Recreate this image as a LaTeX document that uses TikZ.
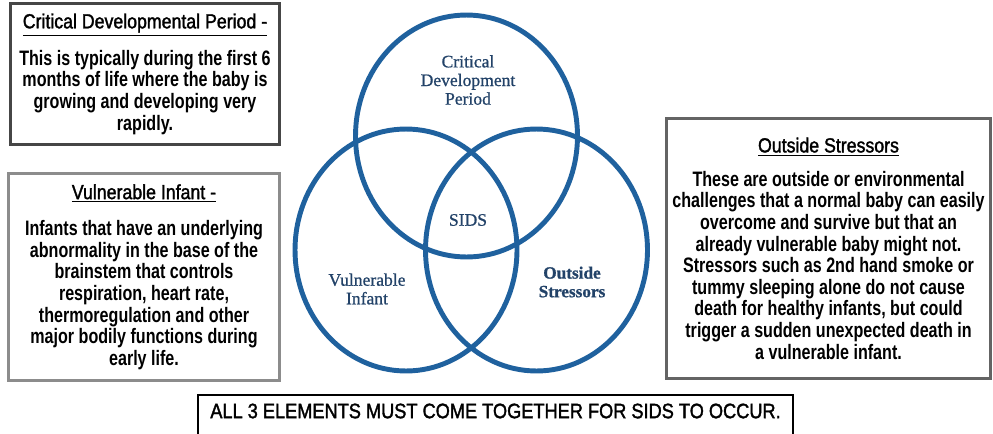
\documentclass[tikz,border=0pt]{standalone}
\usepackage{fontspec}
\usepackage{tikz}
\usetikzlibrary{shapes.geometric}
\setmainfont{Liberation Sans}
\newfontfamily\headfont[FakeStretch=0.87, FakeBold=1.6]{Liberation Sans}
\newfontfamily\bodyfont[FakeStretch=0.77]{Liberation Sans}
\newfontfamily\vennfont[FakeBold=0.9]{Liberation Serif}
\definecolor{vennblue}{RGB}{31,97,158}
\definecolor{venntext}{RGB}{34,66,104}
\definecolor{boxdark}{RGB}{70,70,70}
\definecolor{boxmid}{RGB}{100,100,100}
\definecolor{boxlight}{RGB}{140,140,140}

\tikzset{
	infobox/.style={draw, line width=1.7pt, inner sep=0pt, align=center,
		font=\bodyfont\bfseries\fontsize{11.9}{12.3}\selectfont},
	notebox/.style={draw=black, line width=1.1pt, minimum width=11.9cm, minimum height=1cm},
	venn/.style={ellipse, draw=vennblue, line width=2.8pt, minimum width=4.44cm,
		minimum height=4.84cm, inner sep=0pt},
	vennlabel/.style={text=venntext, align=center, font=\vennfont\fontsize{10}{10.6}\selectfont},
}
\newcommand{\boxhead}[1]{{\headfont\mdseries\fontsize{11.6}{12.3}\selectfont\underline{#1}}}

\begin{document}
\begin{tikzpicture}
	[x=0.02cm, y=-0.02cm]
	\clip (0,0) rectangle (993,433);
	% text boxes
	\node[infobox, draw=boxdark, minimum width=5.4cm, minimum height=2.84cm] (cdpbox) at (145,74)
	{\boxhead{Critical Developmental Period -}\\[7pt]
		This is typically during the first 6\\ months of life where the baby is\\
		growing and developing very\\ rapidly.};
	\node[infobox, draw=boxlight, minimum width=5.44cm, minimum height=4.16cm] (vibox) at (144,277)
	{\boxhead{Vulnerable Infant -}\\[8.5pt]
		Infants that have an underlying\\ abnormality in the base of the\\
		brainstem that controls\\ respiration, heart rate,\\
		thermoregulation and other\\ major bodily functions during\\ early life.};
	\node[infobox, draw=boxmid, minimum width=6.5cm, minimum height=5.22cm] (osbox) at (828.5,248.5)
	{\boxhead{Outside Stressors}\\[7pt]
		These are outside or environmental\\ challenges that a normal baby can easily\\
		overcome and survive but that an\\ already vulnerable baby might not.\\
		Stressors such as 2nd hand smoke or\\ tummy sleeping alone do not cause\\
		death for healthy infants, but could\\ trigger a sudden unexpected death in\\
		a vulnerable infant.};
	% venn diagram
	\node[venn] (cdp) at (466.5,136) {};
	\node[venn] (vi) at (406,250) {};
	\node[venn] (os) at (536.5,250) {};
	\node[vennlabel] (cdplabel) at (468,80) {Critical\\ Development\\ Period};
	\node[vennlabel] (sids) at (468,220) {SIDS};
	\node[vennlabel] (vilabel) at (367,289) {Vulnerable\\ Infant};
	\node[vennlabel, font=\vennfont\bfseries\fontsize{9.8}{10.6}\selectfont] (oslabel) at (572,282)
	{Outside\\ Stressors};
	% bottom note
	\node[notebox] (notebox) at (495.5,420) {};
	\node[font=\headfont\fontsize{11.9}{12.3}\selectfont] (note) at (495.5,411)
	{ALL 3 ELEMENTS MUST COME TOGETHER FOR SIDS TO OCCUR.};
\end{tikzpicture}
\end{document}
